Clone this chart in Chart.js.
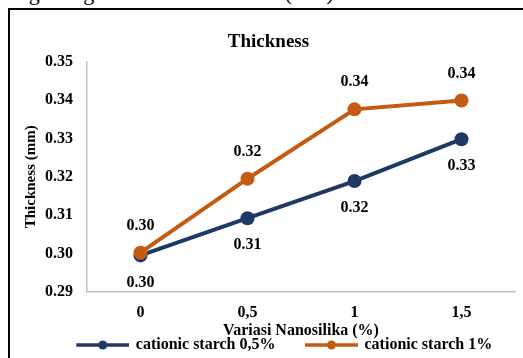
<!DOCTYPE html>
<html lang="id">
<head>
    <meta charset="UTF-8">
    <title>Thickness</title>
    <script src="https://cdn.jsdelivr.net/npm/chart.js"></script>
    <style>
        html, body { margin: 0; padding: 0; background: #fff; overflow: hidden; width: 523px; height: 358px; }
        .doc-line {
            position: absolute; left: 8px; top: -20px; line-height: 22px;
            font: 22px "Liberation Serif", serif; color: #000; white-space: nowrap;
        }
        .frame {
            position: absolute; left: 8px; top: 8px; width: 600px; height: 400px;
            border: 2px solid #000; box-sizing: border-box; pointer-events: none;
        }
        #chart { position: absolute; left: 0; top: 0; }
    </style>
</head>
<body>
    <div class="doc-line">angka digital dalam mm kertas (mm).</div>
    <div class="frame"></div>
    <canvas id="chart" width="523" height="363"></canvas>

    <script>
        // values
        const categories = ['0', '0,5', '1', '1,5'];
        const starch05 = [0.2995, 0.3092, 0.3189, 0.3298];
        const starch1 = [0.3002, 0.3195, 0.3376, 0.3399];
        const yMin = 0.29, yMax = 0.35, yStep = 0.01;

        const BLUE = '#203864';
        const ORANGE = '#c55a11';
        const FONT = '"Liberation Serif", "Times New Roman", serif';

        // line + dot legend marker (transparent lead gives the gap between items)
        function legendIcon(color) {
            const c = document.createElement('canvas');
            c.width = 84; c.height = 12;
            const g = c.getContext('2d');
            g.strokeStyle = color; g.lineWidth = 3.5;
            g.beginPath(); g.moveTo(31, 6); g.lineTo(84, 6); g.stroke();
            g.fillStyle = color;
            g.beginPath(); g.arc(57.5, 6, 4.5, 0, Math.PI * 2); g.fill();
            return c;
        }

        // value labels: orange above, blue below
        const valueLabels = {
            id: 'valueLabels',
            afterDatasetsDraw(chart) {
                const ctx = chart.ctx;
                ctx.save();
                ctx.font = 'bold 16px ' + FONT;
                ctx.fillStyle = '#000';
                ctx.textAlign = 'center';
                ctx.textBaseline = 'middle';
                chart.data.datasets.forEach((ds, i) => {
                    const meta = chart.getDatasetMeta(i);
                    const dy = ds.labelSide === 'above' ? -27 : 27;
                    meta.data.forEach((pt, j) => {
                        ctx.fillText(ds.data[j].toFixed(2), pt.x, pt.y + dy);
                    });
                });
                ctx.restore();
            }
        };

        // small nudge of the legend row
        const legendShift = {
            id: 'legendShift',
            afterLayout(chart) {
                chart.legend.left += 1;
                chart.legend.right += 1;
            }
        };

        new Chart(document.getElementById('chart'), {
            type: 'line',
            data: {
                labels: categories,
                datasets: [
                    {
                        label: 'cationic starch 0,5%',
                        data: starch05,
                        borderColor: BLUE,
                        backgroundColor: BLUE,
                        borderWidth: 4,
                        pointRadius: 7,
                        pointHoverRadius: 7,
                        pointBorderWidth: 0,
                        order: 1,
                        labelSide: 'below'
                    },
                    {
                        label: 'cationic starch 1%',
                        data: starch1,
                        borderColor: ORANGE,
                        backgroundColor: ORANGE,
                        borderWidth: 4,
                        pointRadius: 7,
                        pointHoverRadius: 7,
                        pointBorderWidth: 0,
                        order: 0,
                        labelSide: 'above'
                    }
                ]
            },
            options: {
                responsive: false,
                animation: false,
                layout: { padding: { left: 22, right: 8, top: 0, bottom: 0 } },
                plugins: {
                    title: {
                        display: true,
                        text: 'Thickness',
                        color: '#000',
                        font: { family: FONT, size: 19, weight: 'bold' },
                        padding: { top: 31, bottom: 8 }
                    },
                    legend: {
                        position: 'bottom',
                        labels: {
                            usePointStyle: true,
                            pointStyleWidth: 81,
                            padding: 0,
                            color: '#000',
                            font: { family: FONT, size: 16, weight: 'bold', lineHeight: 1 },
                            generateLabels(chart) {
                                const items = Chart.defaults.plugins.legend.labels.generateLabels(chart);
                                items.sort((a, b) => a.datasetIndex - b.datasetIndex);
                                items.forEach(it => {
                                    it.pointStyle = legendIcon(chart.data.datasets[it.datasetIndex].borderColor);
                                });
                                return items;
                            }
                        }
                    },
                    tooltip: { enabled: false }
                },
                scales: {
                    x: {
                        type: 'category',
                        offset: true,
                        grid: { display: true, drawOnChartArea: false, drawTicks: false },
                        border: { display: true, color: '#c0c0c0', width: 1.5 },
                        ticks: {
                            color: '#000',
                            padding: 11,
                            font: { family: FONT, size: 16, weight: 'bold' }
                        },
                        title: {
                            display: true,
                            text: 'Variasi Nanosilika (%)',
                            color: '#000',
                            font: { family: FONT, size: 16, weight: 'bold', lineHeight: 1 },
                            padding: { top: -10, bottom: -2 }
                        }
                    },
                    y: {
                        min: yMin,
                        max: yMax,
                        grid: { display: true, drawOnChartArea: false, drawTicks: false },
                        border: { display: true, color: '#c0c0c0', width: 1.5 },
                        ticks: {
                            stepSize: yStep,
                            color: '#000',
                            padding: 14,
                            font: { family: FONT, size: 16, weight: 'bold' },
                            callback: v => Number(v).toFixed(2)
                        },
                        title: {
                            display: true,
                            text: 'Thickness (mm)',
                            color: '#000',
                            font: { family: FONT, size: 15, weight: 'bold' },
                            padding: { top: 0, bottom: 0 }
                        },
                        afterFit(scale) { scale.width = 65; }
                    }
                }
            },
            plugins: [valueLabels, legendShift]
        });
    </script>
</body>
</html>
